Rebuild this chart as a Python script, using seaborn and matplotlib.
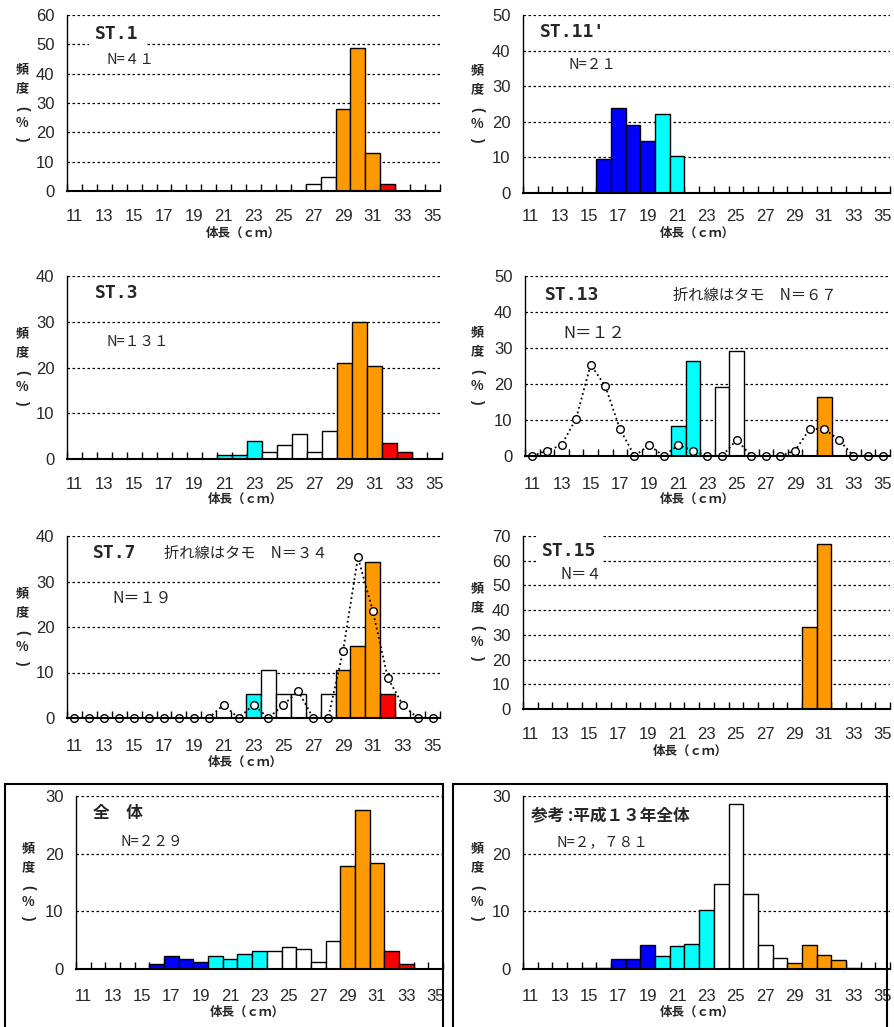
import numpy as np
import pandas as pd
import matplotlib
matplotlib.use("Agg")
import matplotlib.pyplot as plt
from matplotlib.patches import Rectangle
import seaborn as sns

# 体長階級 (cm)
lengths = [11, 12, 13, 14, 15, 16, 17, 18, 19, 20, 21, 22, 23, 24, 25,
           26, 27, 28, 29, 30, 31, 32, 33, 34, 35]
cats = [str(v) for v in lengths]

# 頻度 (%) 各定点
st1 = [0, 0, 0, 0, 0, 0, 0, 0, 0, 0, 0, 0, 0, 0, 0, 0,
       2.4, 4.9, 27.9, 48.8, 12.9, 2.4, 0, 0, 0]
st11 = [0, 0, 0, 0, 0, 9.5, 23.8, 19.0, 14.7, 22.2, 10.5, 0, 0,
        0, 0, 0, 0, 0, 0, 0, 0, 0, 0, 0, 0]
st3 = [0, 0, 0, 0, 0, 0, 0, 0, 0, 0, 0.8, 0.8, 4.0, 1.5, 3.1,
       5.5, 1.5, 6.2, 21.0, 30.0, 20.4, 3.4, 1.6, 0, 0]
st13 = [0, 0, 0, 0, 0, 0, 0, 0, 0, 0, 8.3, 26.4, 0, 19.2, 29.1,
        0, 0, 0, 0, 0, 16.5, 0, 0, 0, 0]
st13_tamo = [0, 1.5, 3.0, 10.4, 25.4, 19.4, 7.5, 0, 3.0, 0, 3.0, 1.5, 0,
             0, 4.5, 0, 0, 0, 1.5, 7.5, 7.5, 4.5, 0, 0, 0]
st7 = [0, 0, 0, 0, 0, 0, 0, 0, 0, 0, 0, 0, 5.3, 10.5, 5.3,
       5.3, 0, 5.3, 10.5, 15.8, 34.2, 5.3, 0, 0, 0]
st7_tamo = [0, 0, 0, 0, 0, 0, 0, 0, 0, 0, 2.9, 0, 2.9, 0, 2.9,
            5.9, 0, 0, 14.7, 35.3, 23.5, 8.8, 2.9, 0, 0]
st15 = [0, 0, 0, 0, 0, 0, 0, 0, 0, 0, 0, 0, 0, 0, 0,
        0, 0, 0, 0, 33.3, 66.7, 0, 0, 0, 0]
total = [0, 0, 0, 0, 0, 0.9, 2.2, 1.8, 1.3, 2.2, 1.8, 2.6, 3.1, 3.1, 3.9,
         3.5, 1.3, 4.8, 17.9, 27.5, 18.3, 3.1, 0.9, 0, 0]
h13 = [0, 0, 0, 0, 0.2, 0.2, 1.8, 1.8, 4.1, 2.2, 4.0, 4.4, 10.2, 14.7, 28.6,
       13.0, 4.1, 1.9, 1.1, 4.1, 2.4, 1.6, 0.2, 0, 0]

BLUE, CYAN, WHITE, ORANGE, RED = "#0000FF", "#00FFFF", "#FFFFFF", "#FF9900", "#FF0000"


def station_colour(cm):
    if cm <= 19:
        return BLUE
    if cm <= 23:
        return CYAN
    if cm <= 28:
        return WHITE
    if cm <= 31:
        return ORANGE
    return RED


def h13_colour(cm):
    if cm <= 19:
        return BLUE
    if cm <= 23:
        return CYAN
    if cm <= 28:
        return WHITE
    if cm <= 33:
        return ORANGE
    return RED


station_cols = [station_colour(v) for v in lengths]
h13_cols = [h13_colour(v) for v in lengths]

W, H = 894, 1027
sns.set_style("white")
plt.rcParams['font.family'] = ['Liberation Sans', 'Noto Sans CJK JP', 'DejaVu Sans']
JP = ['Noto Sans CJK JP', 'DejaVu Sans']
MONO = ['DejaVu Sans Mono', 'Noto Sans CJK JP']
SANS = ['Liberation Sans', 'DejaVu Sans']

fig = plt.figure(figsize=(W / 100, H / 100), dpi=100)


def put(x, y, s, size=10.5, family=JP, weight='normal', bbox=False, ha='left', rotation=0):
    kw = {}
    if bbox:
        kw['bbox'] = dict(boxstyle='square,pad=0.35', fc='white', ec='none')
    fig.text(x / W, 1 - y / H, s, ha=ha, va='center', fontsize=size,
             family=family, weight=weight, rotation=rotation, **kw)


def ylabel_stack(x, yc):
    # 縦書きの「頻度（%）」
    put(x, yc - 35, '頻', size=9.5, weight='bold', ha='center')
    put(x, yc - 16, '度', size=9.5, weight='bold', ha='center')
    put(x, yc + 4, '(', size=10, family=SANS, weight='bold', ha='center', rotation=-90)
    put(x, yc + 19, '%', size=9.5, weight='bold', ha='center')
    put(x, yc + 34, ')', size=10, family=SANS, weight='bold', ha='center', rotation=-90)


def draw_panel(box, values, ymax, colours, gap, xlab, ylab_x, tamo=None):
    l, t, r, b = box
    ax = fig.add_axes([l / W, 1 - b / H, (r - l) / W, (b - t) / H])
    ax.set_facecolor('none')
    df = pd.DataFrame({'length': cats, 'pct': values})
    sns.barplot(data=df, x='length', y='pct', hue='length', order=cats,
                hue_order=cats, palette=colours, width=1.0, dodge=False,
                saturation=1, edgecolor='black', linewidth=1.0, legend=False,
                errorbar=None, ax=ax)
    if tamo is not None:
        sns.pointplot(x=cats, y=tamo, order=cats, color='black', errorbar=None,
                      linestyle=':', linewidth=1.3, marker='o', markersize=5.5,
                      markerfacecolor='white', markeredgewidth=1.0,
                      clip_on=False, ax=ax)
    ax.set_ylim(0, ymax)
    ax.set_yticks(np.arange(0, ymax + 1, 10))
    ax.set_xlim(-0.5, len(cats) - 0.5)
    ax.set_xticks(range(0, len(cats), 2))
    ax.set_xticklabels(cats[::2])
    ax.set_xticks(np.arange(-0.5, len(cats)), minor=True)
    ax.tick_params(axis='x', which='minor', bottom=True, direction='in',
                   length=5, width=1.0, color='black')
    ax.tick_params(axis='x', which='major', bottom=True, length=0, labelsize=12,
                   pad=(gap - 6) * 0.72)
    ax.tick_params(axis='y', length=0, pad=9, labelsize=12)
    ax.set_xlabel('')
    ax.set_ylabel('')
    ax.set_axisbelow(True)
    ax.yaxis.grid(True, color='black', linestyle=(0, (2, 2)), linewidth=0.9)
    ax.xaxis.grid(False)
    for side in ['top', 'right']:
        ax.spines[side].set_visible(False)
    ax.spines['left'].set_color('black')
    ax.spines['left'].set_linewidth(1.0)
    ax.spines['bottom'].set_color('black')
    ax.spines['bottom'].set_linewidth(1.5)
    # 軸ラベル
    put(xlab[0], xlab[1], '体長（ｃｍ）', size=9, weight='bold', ha='center')
    ylabel_stack(ylab_x, (t + b) / 2 + 1)
    return ax


draw_panel((67, 15, 440, 191), st1, 60, station_cols, 24, (243, 233), 22)
put(95, 34, 'ST.1', size=13, family=MONO, weight='bold', bbox=True)
put(106, 60, 'N=４１', size=10.5)

draw_panel((523, 15, 890, 193), st11, 50, station_cols, 22, (697, 233), 477)
put(540, 32, "ST.11'", size=13, family=MONO, weight='bold', bbox=True)
put(569, 65, 'N=２１', size=10.5)

draw_panel((67, 276, 442, 459), st3, 40, station_cols, 24, (245, 499), 22)
put(95, 293, 'ST.3', size=13, family=MONO, weight='bold', bbox=True)
put(106, 342, 'N=１３１', size=10.5)

draw_panel((525, 276, 890, 456), st13, 50, station_cols, 27, (697, 499), 477,
           tamo=st13_tamo)
put(545, 295, 'ST.13', size=13, family=MONO, weight='bold', bbox=True)
put(673, 295, '折れ線はタモ　N＝６７', size=11)
put(563, 333, 'N＝１２', size=12)

draw_panel((67, 536, 440, 718), st7, 40, station_cols, 27, (245, 762), 22,
           tamo=st7_tamo)
put(93, 553, 'ST.7', size=13, family=MONO, weight='bold', bbox=True)
put(164, 553, '折れ線はタモ　N＝３４', size=11)
put(112, 598, 'N＝１９', size=11.5)

draw_panel((523, 536, 890, 709), st15, 70, station_cols, 24, (690, 751), 477)
put(542, 551, 'ST.15', size=13, family=MONO, weight='bold', bbox=True)
put(560, 574, 'N＝４', size=11)

draw_panel((76, 796, 443, 969), total, 30, station_cols, 26, (247, 1012), 28)
put(93, 813, '全　体', size=12, weight='bold', bbox=True)
put(120, 842, 'N=２２９', size=10.5)

draw_panel((523, 796, 890, 969), h13, 30, h13_cols, 26, (697, 1012), 477)
put(531, 815, '参考 :平成１３年全体', size=12, weight='bold', bbox=True)
put(557, 842, 'N=２，７８１', size=10.5)

# 下段の枠
for x0, x1 in [(5, 443), (453, 887)]:
    fig.add_artist(Rectangle((x0 / W, 1 - 1060 / H), (x1 - x0) / W, (1060 - 784) / H,
                             transform=fig.transFigure, fill=False,
                             ec='black', lw=1.5, zorder=5))

fig.savefig('out.png', dpi=100, facecolor='white')
